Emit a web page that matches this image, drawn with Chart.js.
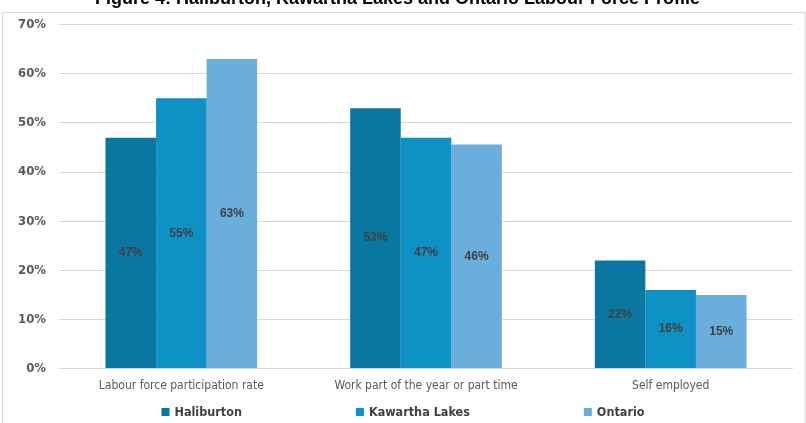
<!DOCTYPE html>
<html>
<head>
<meta charset="utf-8">
<script src="https://cdn.jsdelivr.net/npm/chart.js@4/dist/chart.umd.min.js"></script>
<style>
  html, body { margin: 0; padding: 0; background: #fff; overflow: hidden; }
  #frame { position: absolute; left: 2px; top: 12px; width: 802px; height: 420px; border: 1px solid #d9d9d9; }
  #wrap { position: absolute; left: 0; top: -14px; width: 806px; height: 437px; }
</style>
</head>
<body>
<div id="frame"></div>
<div id="wrap"><canvas id="chart"></canvas></div>
<script>
const categories = ["Labour force participation rate", "Work part of the year or part time", "Self employed"];
const haliburton = [47, 53, 22];
const kawarthaLakes = [55, 47, 16];
const ontario = [63, 45.6, 15];
const yTicks = [0, 10, 20, 30, 40, 50, 60, 70];

const narrow = "'Liberation Sans Narrow', 'DejaVu Sans Condensed', sans-serif";

// value labels in the middle of each bar
const barLabels = {
  id: "barLabels",
  afterDatasetsDraw(chart) {
    const ctx = chart.ctx;
    ctx.save();
    ctx.font = "bold 12px 'Liberation Sans', Arial, sans-serif";
    ctx.fillStyle = "#404040";
    ctx.textAlign = "center";
    ctx.textBaseline = "middle";
    chart.data.datasets.forEach((ds, i) => {
      chart.getDatasetMeta(i).data.forEach((bar, j) => {
        ctx.fillText(Math.round(ds.data[j]) + "%", bar.x, (bar.y + bar.base) / 2);
      });
    });
    ctx.restore();
  },
};

// legend with wide gaps between items
const spacedLegend = {
  id: "spacedLegend",
  afterDraw(chart) {
    const ctx = chart.ctx;
    const gap = 114, box = 8;
    ctx.save();
    ctx.font = "bold 12.5px " + narrow;
    const items = chart.data.datasets.map(ds => ({
      text: ds.label,
      color: ds.backgroundColor,
      w: box + 5 + ctx.measureText(ds.label).width,
    }));
    const total = items.reduce((s, it) => s + it.w, 0) + gap * (items.length - 1);
    let x = chart.width / 2 - total / 2;
    const y = chart.height - 11;
    ctx.textBaseline = "middle";
    items.forEach(it => {
      ctx.fillStyle = it.color;
      ctx.fillRect(x, y - box / 2, box, box);
      ctx.fillStyle = "#404040";
      ctx.fillText(it.text, x + box + 5, y + 1);
      x += it.w + gap;
    });
    ctx.restore();
  },
};

new Chart(document.getElementById("chart"), {
  type: "bar",
  data: {
    labels: categories,
    datasets: [
      { label: "Haliburton", data: haliburton, backgroundColor: "#0a77a1" },
      { label: "Kawartha Lakes", data: kawarthaLakes, backgroundColor: "#0e92c5" },
      { label: "Ontario", data: ontario, backgroundColor: "#6aafdc" },
    ],
  },
  plugins: [barLabels, spacedLegend],
  options: {
    responsive: true,
    maintainAspectRatio: false,
    animation: false,
    layout: { padding: { left: 2, right: 13, top: 0, bottom: 28 } },
    datasets: {
      bar: { categoryPercentage: 0.62, barPercentage: 1, borderWidth: 0 },
    },
    scales: {
      x: {
        grid: { display: false },
        border: { display: false },
        ticks: { color: "#595959", font: { family: narrow, size: 12 }, padding: 2 },
      },
      y: {
        min: 0,
        max: 70,
        afterBuildTicks: s => { s.ticks = yTicks.map(v => ({ value: v })); },
        afterFit: s => { s.width = 57; },
        grid: { color: "#d9d9d9", drawTicks: false },
        border: { display: false },
        ticks: {
          color: "#595959",
          padding: 13,
          font: { family: narrow, size: 13, weight: "bold" },
          callback: v => v + "%",
        },
      },
    },
    plugins: {
      legend: { display: false },
      tooltip: { enabled: false },
      title: {
        display: true,
        text: "Figure 4: Haliburton, Kawartha Lakes and Ontario Labour Force Profile",
        color: "#000",
        font: { family: "'Liberation Sans', Arial, sans-serif", size: 18, weight: "bold" },
        padding: { top: 2, bottom: 15 },
      },
    },
  },
});
</script>
</body>
</html>
